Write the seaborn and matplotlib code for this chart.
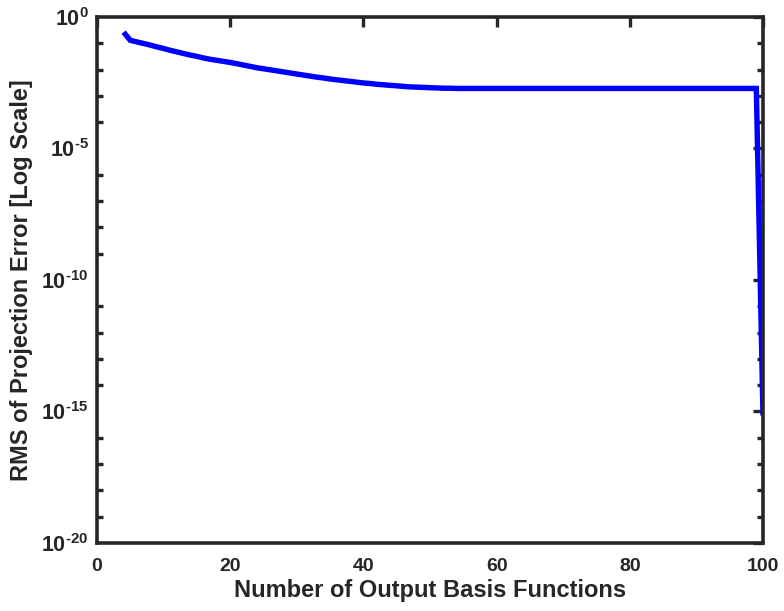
import matplotlib
matplotlib.use("Agg")
import matplotlib.pyplot as plt
import matplotlib.ticker as mticker
import pandas as pd
import seaborn as sns

# Number of output basis functions kept in the projection
n_basis = list(range(4, 101))

# RMS of the projection error for each basis size
rms_error = [
    2.63e-1, 1.29e-1, 1.12e-1, 9.77e-2, 8.51e-2, 7.24e-2, 6.31e-2, 5.37e-2,
    4.68e-2, 4.07e-2, 3.55e-2, 3.16e-2, 2.75e-2, 2.45e-2, 2.24e-2, 2.04e-2,
    1.86e-2, 1.66e-2, 1.48e-2, 1.32e-2, 1.17e-2, 1.07e-2, 9.77e-3, 8.91e-3,
    8.13e-3, 7.41e-3, 6.76e-3, 6.17e-3, 5.62e-3, 5.13e-3, 4.79e-3, 4.37e-3,
    4.07e-3, 3.80e-3, 3.55e-3, 3.31e-3, 3.09e-3, 2.95e-3, 2.75e-3, 2.63e-3,
    2.51e-3, 2.40e-3, 2.29e-3, 2.19e-3, 2.14e-3, 2.09e-3, 2.04e-3, 2.00e-3,
    1.95e-3, 1.95e-3, 1.91e-3,
    1.91e-3, 1.91e-3, 1.91e-3, 1.91e-3, 1.91e-3, 1.91e-3, 1.91e-3, 1.91e-3,
    1.91e-3, 1.91e-3, 1.91e-3, 1.91e-3, 1.91e-3, 1.91e-3, 1.91e-3, 1.91e-3,
    1.91e-3, 1.91e-3, 1.91e-3, 1.91e-3, 1.91e-3, 1.91e-3, 1.91e-3, 1.91e-3,
    1.91e-3, 1.91e-3, 1.91e-3, 1.91e-3, 1.91e-3, 1.91e-3, 1.91e-3, 1.91e-3,
    1.91e-3, 1.91e-3, 1.91e-3, 1.91e-3, 1.91e-3, 1.91e-3, 1.91e-3, 1.91e-3,
    1.91e-3, 1.91e-3, 1.91e-3, 1.91e-3, 1.91e-3,
    7.0e-16,
]

x_ticks = [0, 20, 40, 60, 80, 100]
y_major_ticks = [1e-20, 1e-15, 1e-10, 1e-5, 1e0]
y_exponents = ["\u201020", "\u201015", "\u201010", "\u20105", "0"]
y_minor_ticks = [10.0 ** -k for k in range(0, 21)]

sns.set_style("white")
plt.rcParams["font.family"] = ["Liberation Sans", "DejaVu Sans"]
plt.rcParams["font.weight"] = "bold"
plt.rcParams["axes.unicode_minus"] = False
plt.rcParams["mathtext.fontset"] = "custom"
plt.rcParams["mathtext.rm"] = "Liberation Sans:bold"
plt.rcParams["mathtext.bf"] = "Liberation Sans:bold"
plt.rcParams["mathtext.it"] = "Liberation Sans:bold"
plt.rcParams["mathtext.sf"] = "Liberation Sans:bold"

axis_color = "#262626"

df = pd.DataFrame({"basis": n_basis, "rms": rms_error})

fig = plt.figure(figsize=(7.84, 6.11), dpi=100)
ax = fig.add_axes([0.1237, 0.1113, 0.8495, 0.861])

sns.lineplot(data=df, x="basis", y="rms", ax=ax, color="#0000FF",
             linewidth=3.9, solid_joinstyle="miter", solid_capstyle="butt")

ax.set_yscale("log")
ax.set_xlim(0, 100)
ax.set_ylim(1e-20, 1e0)

ax.set_xticks(x_ticks)
ax.set_xticklabels([str(v) for v in x_ticks])
ax.set_yticks(y_major_ticks)
ax.set_yticklabels(["$\\mathbf{10^{" + e + "}}$" for e in y_exponents])
ax.yaxis.set_minor_locator(mticker.FixedLocator(y_minor_ticks))
ax.yaxis.set_minor_formatter(mticker.NullFormatter())
ax.xaxis.set_minor_locator(mticker.NullLocator())

for side in ["left", "right", "top", "bottom"]:
    ax.spines[side].set_visible(True)
    ax.spines[side].set_linewidth(2.6)
    ax.spines[side].set_color(axis_color)

ax.tick_params(axis="both", which="major", direction="in", length=7, width=2.4,
               color=axis_color, labelcolor=axis_color, labelsize=14,
               top=True, right=True)
ax.tick_params(axis="x", which="major", pad=11)
ax.tick_params(axis="y", which="major", pad=6, labelsize=15.5)
ax.tick_params(axis="y", which="minor", direction="in", length=4.5, width=2.4,
               color=axis_color, left=True, right=True)
for lbl in ax.get_xticklabels():
    lbl.set_fontweight("bold")

ax.set_xlabel("Number of Output Basis Functions", fontsize=17, fontweight="bold",
              color=axis_color, labelpad=3)
ax.set_ylabel("RMS of Projection Error [Log Scale]", fontsize=17, fontweight="bold",
              color=axis_color, labelpad=6)

fig.savefig("out.png", dpi=100)
